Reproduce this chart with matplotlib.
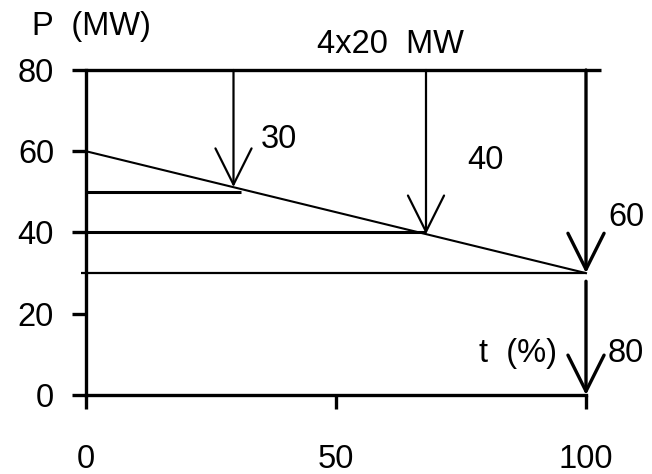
import matplotlib.pyplot as plt

plt.rcParams['font.family'] = ['Liberation Sans', 'DejaVu Sans']

# load duration line: time (%) vs load (MW)
t_pct = [0, 100]
load_mw = [60, 30]

# horizontal steps (start, end, level)
step_start = [0, 0, -1]
step_end = [31, 68, 100]
step_level = [50, 40, 30]
step_width = [2.2, 2.2, 1.6]

# top capacity line 4x20 MW
cap_mw = 80
cap_end = 103

# arrows: x position, from, to, label
arrow_t = [29.5, 68, 100, 100]
arrow_from = [80, 80, 80, 28]
arrow_to = [51.2, 39.6, 30, 0]
arrow_lw = [1.6, 1.6, 2.4, 2.4]
arrow_label = ['30', '40', '60', '80']
label_xy = [(38.5, 62.8), (79.8, 57.8), (108, 43.6), (108, 10.3)]

xticks = [0, 50, 100]
yticks = [0, 20, 40, 60, 80]

fs = 23.5

fig = plt.figure(figsize=(6.52, 4.74), dpi=100)
ax = fig.add_axes([0, 0, 1, 1])
ax.set_xlim(-17.2, 113.2)
ax.set_ylim(-19.45, 97.23)

for s in ['top', 'right']:
    ax.spines[s].set_visible(False)
ax.spines['left'].set_position(('data', 0))
ax.spines['bottom'].set_position(('data', 0))
ax.spines['left'].set_bounds(0, 80)
ax.spines['bottom'].set_bounds(0, 100)
for s in ['left', 'bottom']:
    ax.spines[s].set_linewidth(2.4)

ax.set_xticks(xticks)
ax.set_yticks(yticks)
ax.tick_params(axis='both', direction='out', length=10, width=2.4, labelsize=fs)
ax.tick_params(axis='y', pad=13)
ax.tick_params(axis='x', pad=25)
ax.patch.set_visible(False)

ax.plot([0, cap_end], [cap_mw, cap_mw], color='black', lw=2.4, solid_capstyle='butt')
ax.plot(t_pct, load_mw, color='black', lw=1.5)
for x0, x1, y, w in zip(step_start, step_end, step_level, step_width):
    ax.plot([x0, x1], [y, y], color='black', lw=w, solid_capstyle='butt')

for x, y0, y1, w in zip(arrow_t, arrow_from, arrow_to, arrow_lw):
    ax.annotate('', xy=(x, y1), xytext=(x, y0),
                arrowprops=dict(arrowstyle='->,head_length=26,head_width=13',
                                mutation_scale=1, color='black', lw=w,
                                shrinkA=0, shrinkB=0))

for lab, (lx, ly) in zip(arrow_label, label_xy):
    ax.text(lx, ly, lab, fontsize=fs, ha='center', va='center')

ax.text(60.8, 86.2, '4x20  MW', fontsize=fs, ha='center', va='center')
ax.text(1, 90.6, 'P  (MW)', fontsize=fs, ha='center', va='center')
ax.text(86.4, 10.3, 't  (%)', fontsize=fs, ha='center', va='center')

fig.savefig('out.png', dpi=100)
